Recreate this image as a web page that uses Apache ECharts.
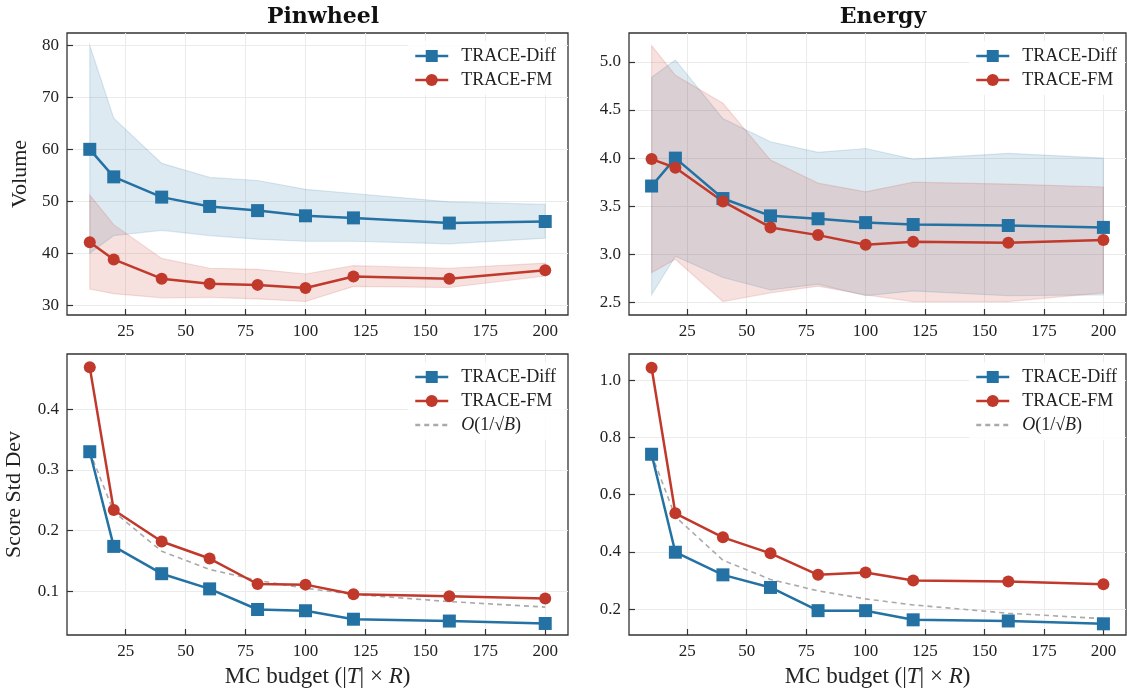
<!DOCTYPE html>
<html>
<head>
<meta charset="utf-8">
<script src="https://cdn.jsdelivr.net/npm/echarts@6/dist/echarts.min.js"></script>
<style>
	html, body { margin: 0; padding: 0; background: #ffffff; }
	#main { width: 1127px; height: 691px; }
</style>
</head>
<body>
<div id="main"></div>
<script>
// MC budget (x axis)
var budget = [10, 20, 40, 60, 80, 100, 120, 160, 200];
var x_ticks = [25, 50, 75, 100, 125, 150, 175, 200];

// Pinwheel - Volume
var pin_vol_diff = [60.0, 54.7, 50.8, 49.0, 48.2, 47.2, 46.8, 45.8, 46.1];
var pin_vol_diff_hi = [80.0, 66.0, 57.3, 54.6, 54.0, 52.3, 51.5, 49.9, 49.4];
var pin_vol_diff_lo = [40.0, 43.4, 44.4, 43.4, 42.7, 42.3, 42.3, 41.8, 42.9];
var pin_vol_fm = [42.1, 38.8, 35.1, 34.1, 33.9, 33.3, 35.5, 35.1, 36.7];
var pin_vol_fm_hi = [51.2, 45.5, 39.0, 37.1, 36.9, 36.0, 37.6, 37.1, 38.1];
var pin_vol_fm_lo = [33.1, 32.2, 31.4, 31.5, 31.2, 30.7, 33.6, 33.4, 35.6];

// Energy - Volume
var en_vol_diff = [3.71, 4.00, 3.58, 3.40, 3.37, 3.33, 3.31, 3.30, 3.28];
var en_vol_diff_hi = [4.84, 5.02, 4.41, 4.17, 4.06, 4.10, 3.99, 4.05, 4.00];
var en_vol_diff_lo = [2.58, 2.98, 2.76, 2.63, 2.69, 2.57, 2.62, 2.57, 2.58];
var en_vol_fm = [3.99, 3.90, 3.55, 3.28, 3.20, 3.10, 3.13, 3.12, 3.15];
var en_vol_fm_hi = [5.17, 4.86, 4.57, 3.98, 3.74, 3.65, 3.75, 3.73, 3.70];
var en_vol_fm_lo = [2.81, 2.95, 2.51, 2.60, 2.67, 2.58, 2.51, 2.51, 2.60];

// Pinwheel - Score Std Dev
var pin_std_diff = [0.330, 0.174, 0.129, 0.104, 0.070, 0.068, 0.054, 0.051, 0.047];
var pin_std_fm = [0.469, 0.234, 0.182, 0.154, 0.112, 0.111, 0.095, 0.092, 0.088];
var pin_std_ref = [0.330, 0.231, 0.166, 0.136, 0.118, 0.105, 0.095, 0.083, 0.074];

// Energy - Score Std Dev
var en_std_diff = [0.741, 0.399, 0.320, 0.276, 0.195, 0.195, 0.163, 0.159, 0.149];
var en_std_fm = [1.043, 0.535, 0.451, 0.395, 0.320, 0.328, 0.300, 0.297, 0.287];
var en_std_ref = [0.741, 0.523, 0.371, 0.304, 0.264, 0.236, 0.215, 0.186, 0.167];

// tick values
var pin_vol_ticks = [30, 40, 50, 60, 70, 80];
var en_vol_ticks = [2.5, 3.0, 3.5, 4.0, 4.5, 5.0];
var pin_std_ticks = [0.1, 0.2, 0.3, 0.4];
var en_std_ticks = [0.2, 0.4, 0.6, 0.8, 1.0];

var BLUE = '#2471a3';
var RED = '#c0392b';
var GREY = '#aaaaaa';
var INK = '#222222';
var SERIF = '"Liberation Serif", "DejaVu Serif", serif';

function pairs(vals) {
	return budget.map(function(b, i) {
		return [b, vals[i]];
	});
}

function bandSeries(idx, lo, hi, fill, edge) {
	return {
		type: 'custom',
		xAxisIndex: idx,
		yAxisIndex: idx,
		silent: true,
		z: 1,
		data: budget.map(function(b, i) {
			return [b, lo[i], hi[i]];
		}),
		encode: { x: 0, y: [1, 2] },
		renderItem: function(params, api) {
			if (params.dataIndex !== 0) return;
			var pts = [];
			for (var i = 0; i < budget.length; i++) {
				pts.push(api.coord([budget[i], hi[i]]));
			}
			for (var j = budget.length - 1; j >= 0; j--) {
				pts.push(api.coord([budget[j], lo[j]]));
			}
			return {
				type: 'polygon',
				shape: { points: pts },
				style: { fill: fill, stroke: edge, lineWidth: 1.2 }
			};
		}
	};
}

function lineSeries(idx, name, vals, color, symbol) {
	return {
		name: name,
		type: 'line',
		xAxisIndex: idx,
		yAxisIndex: idx,
		z: 3,
		data: pairs(vals),
		symbol: symbol,
		symbolSize: symbol === 'rect' ? 13 : 12,
		showAllSymbol: true,
		lineStyle: { color: color, width: 2.5 },
		itemStyle: { color: color },
		emphasis: { disabled: true },
		animation: false
	};
}

function refSeries(idx, vals) {
	return {
		name: 'O(1/√B)',
		type: 'line',
		xAxisIndex: idx,
		yAxisIndex: idx,
		z: 2,
		data: pairs(vals),
		symbol: 'none',
		lineStyle: { color: GREY, width: 1.6, type: [5, 4] },
		// keep the legend icon a bare dashed line
		itemStyle: { color: GREY, opacity: 0 },
		emphasis: { disabled: true },
		animation: false
	};
}

function xAxisCfg(idx, withName) {
	return {
		type: 'value',
		gridIndex: idx,
		min: 0.5,
		max: 209.5,
		name: withName ? 'MC budget (|{i|T}| × {i|R})' : '',
		nameLocation: 'middle',
		nameGap: 30,
		nameTextStyle: {
			color: INK, fontFamily: SERIF, fontSize: 23,
			rich: { i: { fontStyle: 'italic', fontFamily: SERIF, fontSize: 23, color: INK } }
		},
		axisLine: { show: false },
		axisTick: { show: true, inside: true, length: 6, customValues: x_ticks, lineStyle: { color: '#333', width: 1.2 } },
		axisLabel: { customValues: x_ticks, color: INK, fontFamily: SERIF, fontSize: 17, margin: 8 },
		splitLine: { show: true, customValues: x_ticks, lineStyle: { color: '#ebebeb', width: 1 } }
	};
}

function yAxisCfg(idx, min, max, ticks, digits, name, gap) {
	return {
		type: 'value',
		gridIndex: idx,
		min: min,
		max: max,
		name: name || '',
		nameLocation: 'middle',
		nameGap: gap || 40,
		nameTextStyle: { color: INK, fontFamily: SERIF, fontSize: 22 },
		axisLine: { show: false },
		axisTick: { show: true, inside: true, length: 6, customValues: ticks, lineStyle: { color: '#333', width: 1.2 } },
		axisLabel: {
			customValues: ticks, color: INK, fontFamily: SERIF, fontSize: 17, margin: 8,
			formatter: function(v) { return digits ? v.toFixed(digits) : String(v); }
		},
		splitLine: { show: true, customValues: ticks, lineStyle: { color: '#ebebeb', width: 1 } }
	};
}

function legendCfg(left, top, names) {
	return {
		orient: 'vertical',
		left: left,
		top: top,
		data: names,
		itemWidth: 33,
		itemHeight: 15,
		itemGap: 6,
		padding: [6, 8, 6, 6],
		backgroundColor: 'rgba(255,255,255,0.85)',
		selectedMode: false,
		lineStyle: { width: 2.5 },
		textStyle: {
			color: INK, fontFamily: SERIF, fontSize: 18, padding: [0, 0, 0, 8],
			rich: { i: { fontStyle: 'italic', fontFamily: SERIF, fontSize: 18, color: INK } }
		},
		formatter: function(name) {
			if (name === 'O(1/√B)') return '{i|O}(1/√{i|B})';
			return name;
		}
	};
}

var grids = [
	{ left: 67, top: 33, width: 501, height: 282 },
	{ left: 629, top: 33, width: 497, height: 282 },
	{ left: 67, top: 354, width: 501, height: 281 },
	{ left: 629, top: 354, width: 497, height: 281 }
];
grids.forEach(function(g) {
	g.show = true;
	g.borderColor = '#333333';
	g.borderWidth = 1.3;
	g.backgroundColor = 'transparent';
	g.containLabel = false;
});

var option = {
	backgroundColor: '#ffffff',
	animation: false,
	title: [
		{ text: 'Pinwheel', left: 318, top: 1, textAlign: 'center',
		  textStyle: { color: '#111', fontFamily: '"DejaVu Serif", serif', fontWeight: 'bold', fontSize: 22 } },
		{ text: 'Energy', left: 878, top: 1, textAlign: 'center',
		  textStyle: { color: '#111', fontFamily: '"DejaVu Serif", serif', fontWeight: 'bold', fontSize: 22 } }
	],
	legend: [
		legendCfg(408, 41, ['TRACE-Diff', 'TRACE-FM']),
		legendCfg(969, 41, ['TRACE-Diff', 'TRACE-FM']),
		legendCfg(408, 362, ['TRACE-Diff', 'TRACE-FM', 'O(1/√B)']),
		legendCfg(969, 362, ['TRACE-Diff', 'TRACE-FM', 'O(1/√B)'])
	],
	grid: grids,
	xAxis: [xAxisCfg(0, false), xAxisCfg(1, false), xAxisCfg(2, true), xAxisCfg(3, true)],
	yAxis: [
		yAxisCfg(0, 28.1, 82.4, pin_vol_ticks, 0, 'Volume', 36),
		yAxisCfg(1, 2.37, 5.3, en_vol_ticks, 1),
		yAxisCfg(2, 0.028, 0.491, pin_std_ticks, 1, 'Score Std Dev', 42),
		yAxisCfg(3, 0.11, 1.091, en_std_ticks, 1)
	],
	series: [
		bandSeries(0, pin_vol_diff_lo, pin_vol_diff_hi, 'rgba(36,113,163,0.15)', 'rgba(36,113,163,0.15)'),
		bandSeries(0, pin_vol_fm_lo, pin_vol_fm_hi, 'rgba(192,57,43,0.15)', 'rgba(192,57,43,0.15)'),
		lineSeries(0, 'TRACE-Diff', pin_vol_diff, BLUE, 'rect'),
		lineSeries(0, 'TRACE-FM', pin_vol_fm, RED, 'circle'),

		bandSeries(1, en_vol_diff_lo, en_vol_diff_hi, 'rgba(36,113,163,0.15)', 'rgba(36,113,163,0.15)'),
		bandSeries(1, en_vol_fm_lo, en_vol_fm_hi, 'rgba(192,57,43,0.15)', 'rgba(192,57,43,0.15)'),
		lineSeries(1, 'TRACE-Diff', en_vol_diff, BLUE, 'rect'),
		lineSeries(1, 'TRACE-FM', en_vol_fm, RED, 'circle'),

		lineSeries(2, 'TRACE-Diff', pin_std_diff, BLUE, 'rect'),
		lineSeries(2, 'TRACE-FM', pin_std_fm, RED, 'circle'),
		refSeries(2, pin_std_ref),

		lineSeries(3, 'TRACE-Diff', en_std_diff, BLUE, 'rect'),
		lineSeries(3, 'TRACE-FM', en_std_fm, RED, 'circle'),
		refSeries(3, en_std_ref)
	]
};

var myChart = echarts.init(document.getElementById('main'), null, { renderer: 'canvas' });
myChart.setOption(option);
</script>
</body>
</html>
